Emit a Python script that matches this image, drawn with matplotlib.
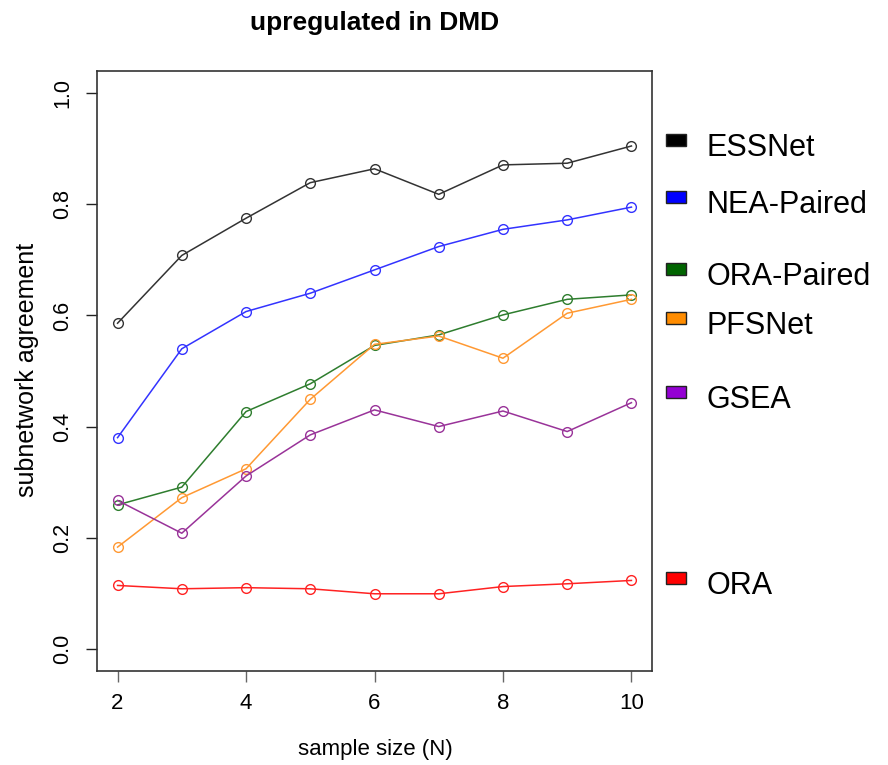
import matplotlib.pyplot as plt
from matplotlib.patches import Rectangle

# subnetwork agreement per method vs sample size
sample_sizes = [2, 3, 4, 5, 6, 7, 8, 9, 10]
essnet = [0.586, 0.708, 0.775, 0.839, 0.864, 0.818, 0.871, 0.874, 0.905]
nea_paired = [0.380, 0.540, 0.607, 0.640, 0.682, 0.724, 0.755, 0.772, 0.795]
ora_paired = [0.259, 0.291, 0.427, 0.477, 0.546, 0.565, 0.601, 0.629, 0.637]
pfsnet = [0.183, 0.272, 0.324, 0.449, 0.548, 0.563, 0.523, 0.604, 0.629]
gsea = [0.267, 0.208, 0.311, 0.385, 0.430, 0.400, 0.428, 0.391, 0.443]
ora = [0.114, 0.108, 0.110, 0.108, 0.099, 0.099, 0.112, 0.117, 0.123]

methods = ["ESSNet", "NEA-Paired", "ORA-Paired", "PFSNet", "GSEA", "ORA"]
series = [essnet, nea_paired, ora_paired, pfsnet, gsea, ora]
line_colors = ["#333333", "#3333ff", "#2e7d2e", "#ff9933", "#993399", "#ff2222"]
box_colors = ["#000000", "#0000ff", "#006400", "#ff8c00", "#9400d3", "#ff0000"]

W, H = 888, 765
FONT = ["Liberation Sans", "DejaVu Sans"]

fig = plt.figure(figsize=(W / 100, H / 100), dpi=100)
ax = fig.add_axes([97 / W, 1 - 671 / H, (652 - 97) / W, (671 - 71) / H])

for vals, col in zip(series, line_colors):
    ax.plot(sample_sizes, vals, color=col, lw=1.1, marker="o", ms=7,
            mfc="none", mec=col, mew=1.0)

ax.set_xlim(1.68, 10.32)
ax.set_ylim(-0.04, 1.04)
ax.set_xticks([2, 4, 6, 8, 10])
ax.set_yticks([0.0, 0.2, 0.4, 0.6, 0.8, 1.0])
ax.set_xticklabels(["2", "4", "6", "8", "10"], fontfamily=FONT, fontsize=16)
ax.set_yticklabels(["0.0", "0.2", "0.4", "0.6", "0.8", "1.0"],
                   fontfamily=FONT, fontsize=15.5, rotation=90, va="center")
ax.tick_params(axis="x", length=8, width=1.0, color="#666666", pad=8)
ax.tick_params(axis="y", length=8, width=1.0, color="#222222", pad=9)
for sp in ax.spines.values():
    sp.set_linewidth(1.2)
    sp.set_color("#333333")

fig.text(375 / W, 1 - 23 / H, "upregulated in DMD", ha="center", va="center",
         fontfamily=FONT, fontsize=19, fontweight="bold")
fig.text(375 / W, 1 - 750 / H, "sample size (N)", ha="center", va="center",
         fontfamily=FONT, fontsize=16)
fig.text(27 / W, 1 - 370 / H, "subnetwork agreement", ha="center", va="center",
         rotation=90, fontfamily=FONT, fontsize=18)

# legend keys sit beside the right edge of the plot
label_y = [148, 205, 277, 326, 400, 586]
for name, col, yc in zip(methods, box_colors, label_y):
    fig.patches.append(Rectangle((666 / W, 1 - (yc - 2) / H), 20 / W, 12 / H,
                                 transform=fig.transFigure, facecolor=col,
                                 edgecolor="#222222", lw=1.0))
    fig.text(706 / W, 1 - yc / H, name, ha="left", va="center",
             fontfamily=FONT, fontsize=22)

fig.savefig("out.png", dpi=100)
